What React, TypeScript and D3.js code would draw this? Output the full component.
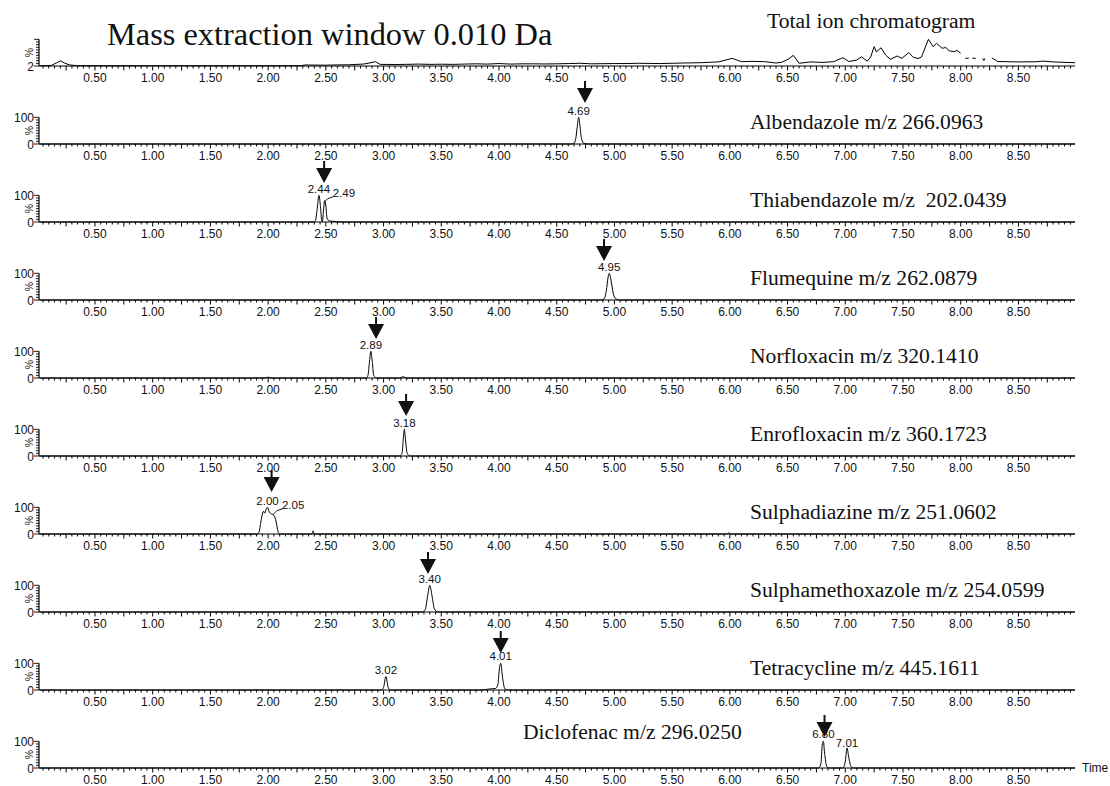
import React from 'react';
import * as d3 from 'd3';

// ---------- data ----------
const TIME_DOMAIN = [0.015, 8.99];
const TICK_LABELS = ['0.50', '1.00', '1.50', '2.00', '2.50', '3.00', '3.50', '4.00', '4.50', '5.00', '5.50', '6.00', '6.50', '7.00', '7.50', '8.00', '8.50'];

const TITLE = 'Mass extraction window 0.010 Da';
const TIC_TITLE = 'Total ion chromatogram';

// Total ion chromatogram, [time, %] (null = gap)
const TIC: [number, number | null][] = [
  [0.02, 3.1], [0.12, 3.8], [0.17, 14], [0.2, 21], [0.24, 12], [0.28, 6], [0.34, 3.5], [0.6, 3], [1.0, 3], [1.5, 3], [2.0, 3],
  [2.28, 3.2], [2.32, 5.7], [2.5, 5], [2.6, 6], [2.7, 6.4], [2.83, 9.3], [2.9, 15], [2.93, 17.8], [2.97, 8], [3.1, 7.5],
  [3.2, 8], [3.3, 9], [3.4, 8], [3.5, 8.5], [3.6, 8], [3.7, 9], [3.8, 10], [3.9, 9], [4.0, 11], [4.1, 9], [4.2, 10], [4.3, 10],
  [4.4, 9.5], [4.5, 10], [4.6, 11], [4.7, 12], [4.8, 10], [4.9, 10.5], [5.0, 11], [5.1, 11], [5.2, 12], [5.3, 11.5], [5.4, 11],
  [5.5, 12], [5.6, 13], [5.74, 14], [5.9, 17], [6.02, 30], [6.1, 18], [6.2, 19], [6.3, 18], [6.4, 13], [6.45, 15.6],
  [6.51, 28], [6.55, 41], [6.6, 12], [6.7, 17], [6.8, 15], [6.9, 18], [6.98, 32.5], [7.03, 18.5], [7.1, 24], [7.14, 36],
  [7.19, 20], [7.22, 35], [7.25, 73], [7.27, 54], [7.31, 69], [7.35, 42], [7.39, 26.6], [7.45, 38.7], [7.49, 30],
  [7.55, 51], [7.59, 34], [7.63, 29.5], [7.66, 35], [7.72, 100], [7.76, 73], [7.79, 85], [7.84, 67], [7.87, 70],
  [7.9, 58], [7.94, 54.5], [7.97, 59], [8.0, 48.6], [8.01, null],
  [8.04, 30], [8.07, 31], [8.08, null], [8.10, 31], [8.13, 30], [8.14, null],
  [8.19, 30], [8.2, 22], [8.21, 30], [8.22, null],
  [8.27, 32], [8.32, 18.5], [8.5, 17], [8.65, 17.5], [8.71, 20], [8.8, 17], [8.99, 14],
];

const ALBENDAZOLE: [number, number][] = [[0.02, 0], [4.62, 0], [4.65, 3], [4.665, 20], [4.678, 65], [4.69, 100], [4.702, 65], [4.715, 20], [4.735, 3], [4.77, 0], [8.99, 0]];
const THIABENDAZOLE: [number, number][] = [[0.02, 0], [2.39, 0], [2.41, 5], [2.425, 50], [2.44, 100], [2.455, 50], [2.465, 3], [2.47, 2], [2.48, 45], [2.49, 80], [2.50, 60], [2.51, 15], [2.53, 4], [2.58, 2], [2.63, 0], [8.99, 0]];
const FLUMEQUINE: [number, number][] = [[0.02, 0], [4.88, 0], [4.91, 4], [4.93, 35], [4.945, 85], [4.955, 100], [4.97, 75], [4.99, 25], [5.01, 5], [5.04, 0], [8.99, 0]];
const NORFLOXACIN: [number, number][] = [[0.02, 0], [1.97, 0], [2.0, 3], [2.03, 0], [2.85, 0], [2.865, 10], [2.88, 70], [2.89, 100], [2.90, 70], [2.915, 10], [2.94, 0], [3.14, 0], [3.17, 5], [3.2, 0], [8.99, 0]];
const ENROFLOXACIN: [number, number][] = [[0.02, 0], [3.14, 0], [3.16, 10], [3.17, 60], [3.18, 100], [3.19, 60], [3.205, 10], [3.23, 0], [8.99, 0]];
const SULPHADIAZINE: [number, number][] = [[0.02, 0], [1.90, 0], [1.92, 5], [1.935, 40], [1.95, 75], [1.96, 85], [1.97, 78], [1.98, 90], [1.995, 100], [2.01, 82], [2.03, 75], [2.05, 70], [2.07, 45], [2.085, 10], [2.10, 0], [2.38, 0], [2.39, 12], [2.40, 0], [5.97, 0], [5.99, 4], [6.01, 0], [8.99, 0]];
const SULPHAMETHOXAZOLE: [number, number][] = [[0.02, 0], [3.33, 0], [3.36, 8], [3.38, 55], [3.40, 100], [3.42, 60], [3.44, 12], [3.47, 0], [8.99, 0]];
const TETRACYCLINE: [number, number][] = [[0.02, 0], [2.98, 0], [3.0, 10], [3.02, 50], [3.04, 10], [3.06, 0], [3.85, 0], [3.92, 4], [3.97, 6], [3.99, 20], [4.005, 85], [4.015, 100], [4.03, 50], [4.05, 5], [4.08, 0], [8.99, 0]];
const DICLOFENAC: [number, number][] = [[0.02, 0], [6.77, 0], [6.79, 20], [6.80, 85], [6.81, 100], [6.82, 60], [6.84, 5], [6.86, 0], [6.98, 0], [7.0, 25], [7.015, 75], [7.03, 40], [7.05, 5], [7.07, 0], [8.99, 0]];

const COMPOUND_NAMES = [
  'Albendazole m/z 266.0963',
  'Thiabendazole m/z  202.0439',
  'Flumequine m/z 262.0879',
  'Norfloxacin m/z 320.1410',
  'Enrofloxacin m/z 360.1723',
  'Sulphadiazine m/z 251.0602',
  'Sulphamethoxazole m/z 254.0599',
  'Tetracycline m/z 445.1611',
  'Diclofenac m/z 296.0250',
];
const COMPOUND_TRACES = [ALBENDAZOLE, THIABENDAZOLE, FLUMEQUINE, NORFLOXACIN, ENROFLOXACIN, SULPHADIAZINE, SULPHAMETHOXAZOLE, TETRACYCLINE, DICLOFENAC];
// arrow time, arrow tip offset above baseline (px)
const ARROW_TIMES = [4.745, 2.485, 4.91, 2.935, 3.195, 2.03, 3.385, 4.015, 6.82];
const ARROW_TIPS = [41, 39, 39, 39, 40, 42, 38, 37, 31];
// peak labels: [time, text, offset above baseline (baseline of text), leader?]
const PEAK_LABELS: [number, string, number, boolean][][] = [
  [[4.69, '4.69', 29, false]],
  [[2.44, '2.44', 29, false], [2.49, '2.49', 25, true]],
  [[4.955, '4.95', 29, false]],
  [[2.89, '2.89', 29, false]],
  [[3.18, '3.18', 29, false]],
  [[1.995, '2.00', 29, false], [2.05, '2.05', 25, true]],
  [[3.40, '3.40', 29, false]],
  [[3.02, '3.02', 16, false], [4.015, '4.01', 30, false]],
  [[6.81, '6.80', 30, false], [7.015, '7.01', 21, false]],
];

// ---------- layout ----------
const W = 1110, H = 786;
const X0 = 39, X1 = 1075;
const BASE0 = 66, STEP = 78, PH = 26.7;
const SANS = 'Liberation Sans, Arial, sans-serif';
const SERIF = 'Liberation Serif, Times New Roman, serif';

const x = d3.scaleLinear().domain(TIME_DOMAIN).range([X0, X1]);

function XAxis({ base }: { base: number }) {
  const ticks = d3.range(1, 180).map(i => i * 0.05);
  return (
    <g>
      <line x1={X0} x2={X1} y1={base} y2={base} stroke="#000" strokeWidth={1.2} />
      {ticks.map((t, i) => {
        const major = (i + 1) % 5 === 0;
        return <line key={i} x1={x(t)} x2={x(t)} y1={base} y2={base + (major ? 4.5 : 2.5)} stroke="#000" strokeWidth={1} />;
      })}
      {TICK_LABELS.map(l => (
        <text key={l} x={x(+l)} y={base + 16} fontSize={12} fontFamily={SANS} textAnchor="middle" fill="#111">{l}</text>
      ))}
    </g>
  );
}

function YAxis({ base, top, topLabel, bottomLabel }: { base: number; top: number; topLabel?: string; bottomLabel: string }) {
  const n = 10;
  const ticks = d3.range(0, n + 1).map(i => base - (base - top) * i / n);
  return (
    <g>
      <line x1={X0} x2={X0} y1={base} y2={top} stroke="#000" strokeWidth={1.2} />
      {ticks.map((y, i) => (
        <line key={i} x1={X0} x2={X0 - (i === 0 || i === n ? 5 : 3)} y1={y} y2={y} stroke="#000" strokeWidth={0.9} />
      ))}
      {topLabel && <text x={34} y={top + 4.5} fontSize={12} fontFamily={SANS} textAnchor="end" fill="#111">{topLabel}</text>}
      <text x={34} y={base + 4.5} fontSize={12} fontFamily={SANS} textAnchor="end" fill="#111">{bottomLabel}</text>
      <text transform={`translate(33,${(base + top) / 2}) rotate(-90)`} fontSize={10.5} fontFamily={SANS} textAnchor="middle" fill="#111">%</text>
    </g>
  );
}

function Arrow({ cx, tip }: { cx: number; tip: number }) {
  const w = 8, h = 15, stem = 7;
  const d = `M${cx - 1},${tip - h - stem} L${cx + 1},${tip - h - stem} L${cx + 1},${tip - h} L${cx + w},${tip - h} L${cx},${tip} L${cx - w},${tip - h} L${cx - 1},${tip - h} Z`;
  return <path d={d} fill="#111" />;
}

export default function App() {
  // TIC
  const ticY = d3.scaleLinear().domain([2, 100]).range([BASE0, BASE0 - PH]);
  const ticLine = d3.line<[number, number | null]>()
    .defined(d => d[1] !== null)
    .x(d => x(d[0]))
    .y(d => ticY(d[1] as number));

  return (
    <svg width={W} height={H} style={{ position: 'absolute', left: 0, top: 0, background: '#fff' }}>
      <rect width={W} height={H} fill="#fff" />
      <text x={107} y={45} fontSize={32.4} fontFamily={SERIF} fill="#111">{TITLE}</text>
      <text x={767} y={28} fontSize={21.6} fontFamily={SERIF} fill="#111">{TIC_TITLE}</text>

      <YAxis base={BASE0} top={BASE0 - PH} bottomLabel="2" />
      <XAxis base={BASE0} />
      <path d={ticLine(TIC) || ''} fill="none" stroke="#000" strokeWidth={1} />

      {COMPOUND_TRACES.map((trace, i) => {
        const base = BASE0 + STEP * (i + 1);
        const y = d3.scaleLinear().domain([0, 100]).range([base, base - PH]);
        const line = d3.line<[number, number]>().x(d => x(d[0])).y(d => y(d[1])).curve(d3.curveMonotoneX);
        const isLast = i === COMPOUND_TRACES.length - 1;
        return (
          <g key={i}>
            <YAxis base={base} top={base - PH} topLabel="100" bottomLabel="0" />
            <XAxis base={base} />
            <path d={line(trace) || ''} fill="none" stroke="#000" strokeWidth={1} />
            <text x={isLast ? 523 : 750} y={isLast ? base - 29 : base - 15} fontSize={21.6} fontFamily={SERIF} fill="#111" style={{ whiteSpace: 'pre' }}>{COMPOUND_NAMES[i]}</text>
            {PEAK_LABELS[i].map(([t, txt, off, leader], j) => {
              if (leader) {
                const px = x(t), py = base - PH * 0.8;
                return (
                  <g key={j}>
                    <path d={`M${px - 1},${py + 2} L${px + 3},${py - 2} L${px + 9},${py - 4}`} fill="none" stroke="#000" strokeWidth={0.9} />
                    <text x={px + 8} y={base - off} fontSize={11.5} fontFamily={SANS} fill="#111">{txt}</text>
                  </g>
                );
              }
              return <text key={j} x={x(t)} y={base - off} fontSize={11.5} fontFamily={SANS} textAnchor="middle" fill="#111">{txt}</text>;
            })}
            <Arrow cx={x(ARROW_TIMES[i])} tip={base - ARROW_TIPS[i]} />
          </g>
        );
      })}
      <text x={1082} y={BASE0 + STEP * 9 + 4} fontSize={12} fontFamily={SANS} fill="#111">Time</text>
    </svg>
  );
}
